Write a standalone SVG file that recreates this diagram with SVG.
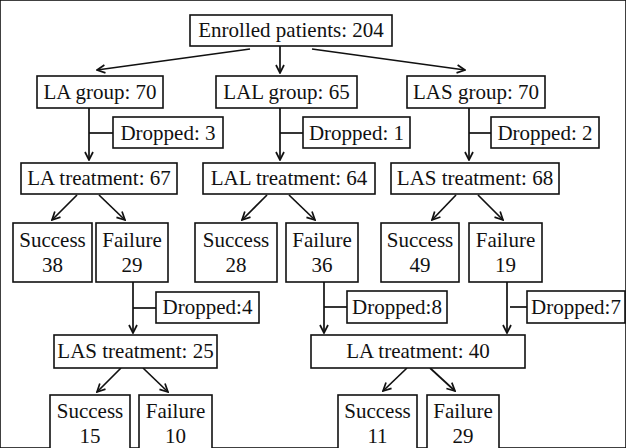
<svg xmlns="http://www.w3.org/2000/svg" width="626" height="448" viewBox="0 0 626 448" font-family="Liberation Serif, Times New Roman, serif">
<style>
rect{fill:#fff;stroke:#111;stroke-width:1.6}
text{font-family:"Liberation Serif","Times New Roman",Times,serif;font-size:21px;fill:#111;text-anchor:middle}
.c line{stroke:#111;stroke-width:1.7;fill:none}
</style>
<defs>
<marker id="a" viewBox="0 0 10 10" refX="9" refY="5" markerWidth="10" markerHeight="10" markerUnits="userSpaceOnUse" orient="auto">
<path d="M1,1 L9,5 L1,9" fill="none" stroke="#111" stroke-width="1.7"/>
</marker>
</defs>
<rect width="626" height="448" fill="#fff" stroke="none"/>
<g class="c" id="connectors">
<line x1="250" y1="49" x2="97" y2="70" marker-end="url(#a)"/>
<line x1="280" y1="46" x2="280" y2="73" marker-end="url(#a)"/>
<line x1="312" y1="49" x2="465" y2="70" marker-end="url(#a)"/>
<line x1="89" y1="108" x2="89" y2="160" marker-end="url(#a)"/>
<line x1="89" y1="133" x2="113" y2="133"/>
<line x1="280" y1="108" x2="280" y2="160" marker-end="url(#a)"/>
<line x1="280" y1="133" x2="303" y2="133"/>
<line x1="469" y1="108" x2="469" y2="160" marker-end="url(#a)"/>
<line x1="469" y1="133" x2="491" y2="133"/>
<line x1="77" y1="195" x2="52" y2="220" marker-end="url(#a)"/>
<line x1="99" y1="195" x2="125" y2="220" marker-end="url(#a)"/>
<line x1="267" y1="195" x2="242" y2="220" marker-end="url(#a)"/>
<line x1="289" y1="195" x2="315" y2="220" marker-end="url(#a)"/>
<line x1="456" y1="195" x2="432" y2="220" marker-end="url(#a)"/>
<line x1="478" y1="195" x2="503" y2="220" marker-end="url(#a)"/>
<line x1="133" y1="282" x2="133" y2="333" marker-end="url(#a)"/>
<line x1="133" y1="308" x2="156" y2="308"/>
<line x1="324" y1="282" x2="324" y2="333" marker-end="url(#a)"/>
<line x1="324" y1="307" x2="347" y2="307"/>
<line x1="507" y1="282" x2="507" y2="333" marker-end="url(#a)"/>
<line x1="510" y1="307" x2="527" y2="307"/>
<line x1="121" y1="368" x2="97" y2="392" marker-end="url(#a)"/>
<line x1="143" y1="368" x2="168" y2="392" marker-end="url(#a)"/>
<line x1="407" y1="368" x2="383" y2="391" marker-end="url(#a)"/>
<line x1="430" y1="368" x2="455" y2="391" marker-end="url(#a)"/>
</g>
<g id="enrolled"><rect x="190" y="15" width="202" height="31"/><text x="291" y="37">Enrolled patients: 204</text></g>
<g id="la-group"><rect x="37" y="76" width="126" height="32"/><text x="100" y="99">LA group: 70</text></g>
<g id="lal-group"><rect x="216" y="76" width="141" height="32"/><text x="286.5" y="99">LAL group: 65</text></g>
<g id="las-group"><rect x="407" y="76" width="138" height="32"/><text x="476" y="99">LAS group: 70</text></g>
<g id="dropped3"><rect x="113" y="117" width="110" height="31"/><text x="168" y="140">Dropped: 3</text></g>
<g id="dropped1"><rect x="303" y="117" width="107" height="31"/><text x="356.5" y="140">Dropped: 1</text></g>
<g id="dropped2"><rect x="491" y="117" width="108" height="31"/><text x="545" y="140">Dropped: 2</text></g>
<g id="la-treat"><rect x="21" y="163" width="156" height="31"/><text x="99" y="185">LA treatment: 67</text></g>
<g id="lal-treat"><rect x="203" y="163" width="172" height="31"/><text x="289" y="185">LAL treatment: 64</text></g>
<g id="las-treat"><rect x="391" y="163" width="168" height="31"/><text x="475" y="185">LAS treatment: 68</text></g>
<g id="s38"><rect x="13" y="223" width="79" height="59"/><text x="52.5" y="247">Success</text><text x="52.5" y="272">38</text></g>
<g id="f29"><rect x="96" y="223" width="72" height="59"/><text x="132" y="247">Failure</text><text x="132" y="272">29</text></g>
<g id="s28"><rect x="195" y="223" width="82" height="59"/><text x="236" y="247">Success</text><text x="236" y="272">28</text></g>
<g id="f36"><rect x="286" y="223" width="72" height="59"/><text x="322" y="247">Failure</text><text x="322" y="272">36</text></g>
<g id="s49"><rect x="381" y="223" width="78" height="59"/><text x="420" y="247">Success</text><text x="420" y="272">49</text></g>
<g id="f19"><rect x="469" y="223" width="73" height="59"/><text x="505.5" y="247">Failure</text><text x="505.5" y="272">19</text></g>
<g id="dropped4"><rect x="156" y="292" width="103" height="31"/><text x="207.5" y="314">Dropped:4</text></g>
<g id="dropped8"><rect x="347" y="291" width="100" height="32"/><text x="397" y="314">Dropped:8</text></g>
<g id="dropped7"><rect x="527" y="291" width="98" height="32"/><text x="576" y="314">Dropped:7</text></g>
<g id="las-treat2"><rect x="54" y="335" width="163" height="33"/><text x="135.5" y="358">LAS treatment: 25</text></g>
<g id="la-treat2"><rect x="311" y="335" width="214" height="33"/><text x="418" y="358">LA treatment: 40</text></g>
<g id="s15"><rect x="50" y="395" width="80" height="60"/><text x="90" y="418">Success</text><text x="90" y="443">15</text></g>
<g id="f10"><rect x="139" y="395" width="73" height="60"/><text x="175.5" y="418">Failure</text><text x="175.5" y="443">10</text></g>
<g id="s11"><rect x="338" y="395" width="79" height="60"/><text x="377.5" y="418">Success</text><text x="377.5" y="443">11</text></g>
<g id="f29b"><rect x="427" y="395" width="72" height="60"/><text x="463" y="418">Failure</text><text x="463" y="443">29</text></g>
</svg>
